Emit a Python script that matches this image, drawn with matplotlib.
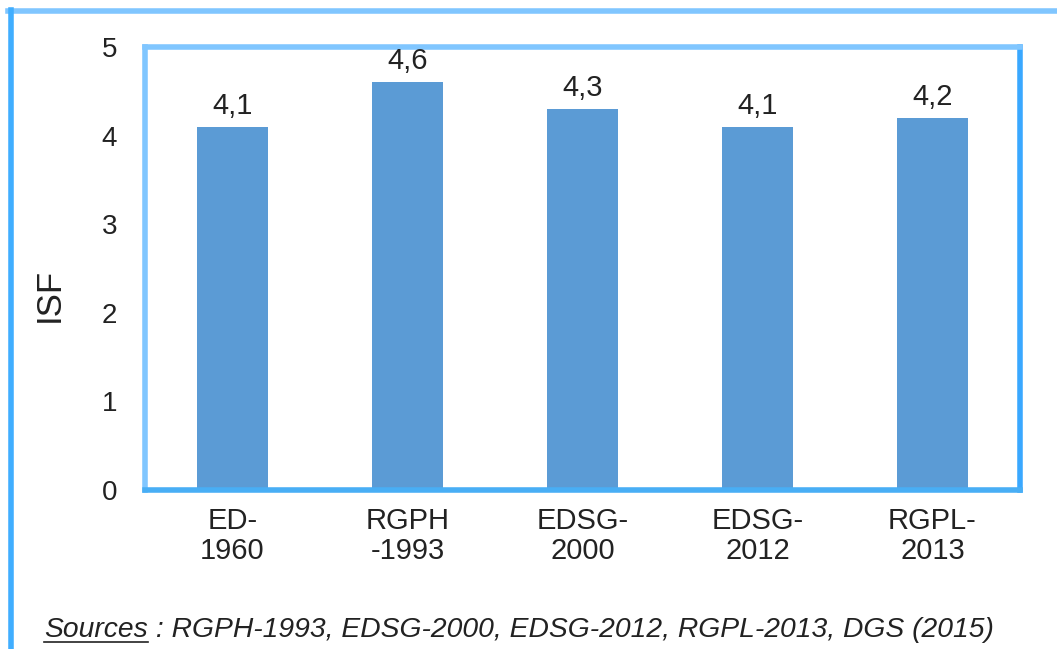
import matplotlib
matplotlib.use("Agg")
import matplotlib.pyplot as plt
from matplotlib.lines import Line2D

categories = ["ED-\n1960", "RGPH\n-1993", "EDSG-\n2000", "EDSG-\n2012", "RGPL-\n2013"]
values = [4.1, 4.6, 4.3, 4.1, 4.2]
value_labels = ["4,1", "4,6", "4,3", "4,1", "4,2"]
yticks = [0, 1, 2, 3, 4, 5]
source_prefix = "Sources"
source_rest = " : RGPH-1993, EDSG-2000, EDSG-2012, RGPL-2013, DGS (2015)"

plt.rcParams['font.family'] = ['Liberation Sans', 'DejaVu Sans']

W, H = 1057, 649
fig = plt.figure(figsize=(W / 100, H / 100), dpi=100)
ax = fig.add_axes([145 / W, 1 - 490 / H, (1020 - 145) / W, (490 - 47) / H])

x = list(range(len(categories)))
ax.bar(x, values, width=0.41, color="#5B9BD5", zorder=2)
for xi, v, lab in zip(x, values, value_labels):
    ax.annotate(lab, (xi, v), xytext=(0, 5), textcoords="offset points",
                ha="center", va="bottom", fontsize=21, color="#222222")

ax.set_xlim(-0.5, len(categories) - 0.5)
ax.set_ylim(0, 5)
ax.set_yticks(yticks)
ax.set_yticklabels([str(t) for t in yticks], fontsize=20, color="#222222")
ax.set_xticks(x)
ax.set_xticklabels(categories, fontsize=21, color="#222222", linespacing=1.1)
ax.tick_params(axis="both", length=0)
ax.tick_params(axis="y", pad=20)
ax.tick_params(axis="x", pad=12)
ax.set_ylabel("ISF", fontsize=25, color="#222222")
ax.yaxis.set_label_coords((66 - 145) / 875, (490 - 295) / 443)
for side in ["left", "top", "right"]:
    ax.spines[side].set_color("#80C6FF")
    ax.spines[side].set_linewidth(4)
ax.spines["right"].set_color("#3AA8FF")
ax.spines["bottom"].set_color("#48AEF5")
ax.spines["bottom"].set_linewidth(4)

# outer frame (top and left lines)
fig.add_artist(Line2D([8 / W, 1.0], [1 - 10.5 / H, 1 - 10.5 / H], transform=fig.transFigure,
                      color="#80C6FF", linewidth=4))
fig.add_artist(Line2D([10.5 / W, 10.5 / W], [1 - 10 / H, 0], transform=fig.transFigure,
                      color="#40AEFF", linewidth=4))

t1 = fig.text(44 / W, 1 - 637 / H, source_prefix, fontsize=20.3, style="italic",
              color="#222222", va="baseline")
fig.canvas.draw()
bb = t1.get_window_extent()
fig.add_artist(Line2D([bb.x0 / W, bb.x1 / W], [(bb.y0 + 1) / H, (bb.y0 + 1) / H],
                      transform=fig.transFigure, color="#222222", linewidth=1.2))
fig.text(bb.x1 / W, 1 - 637 / H, source_rest, fontsize=20.3, style="italic",
         color="#222222", va="baseline")

fig.savefig("out.png", dpi=100)
